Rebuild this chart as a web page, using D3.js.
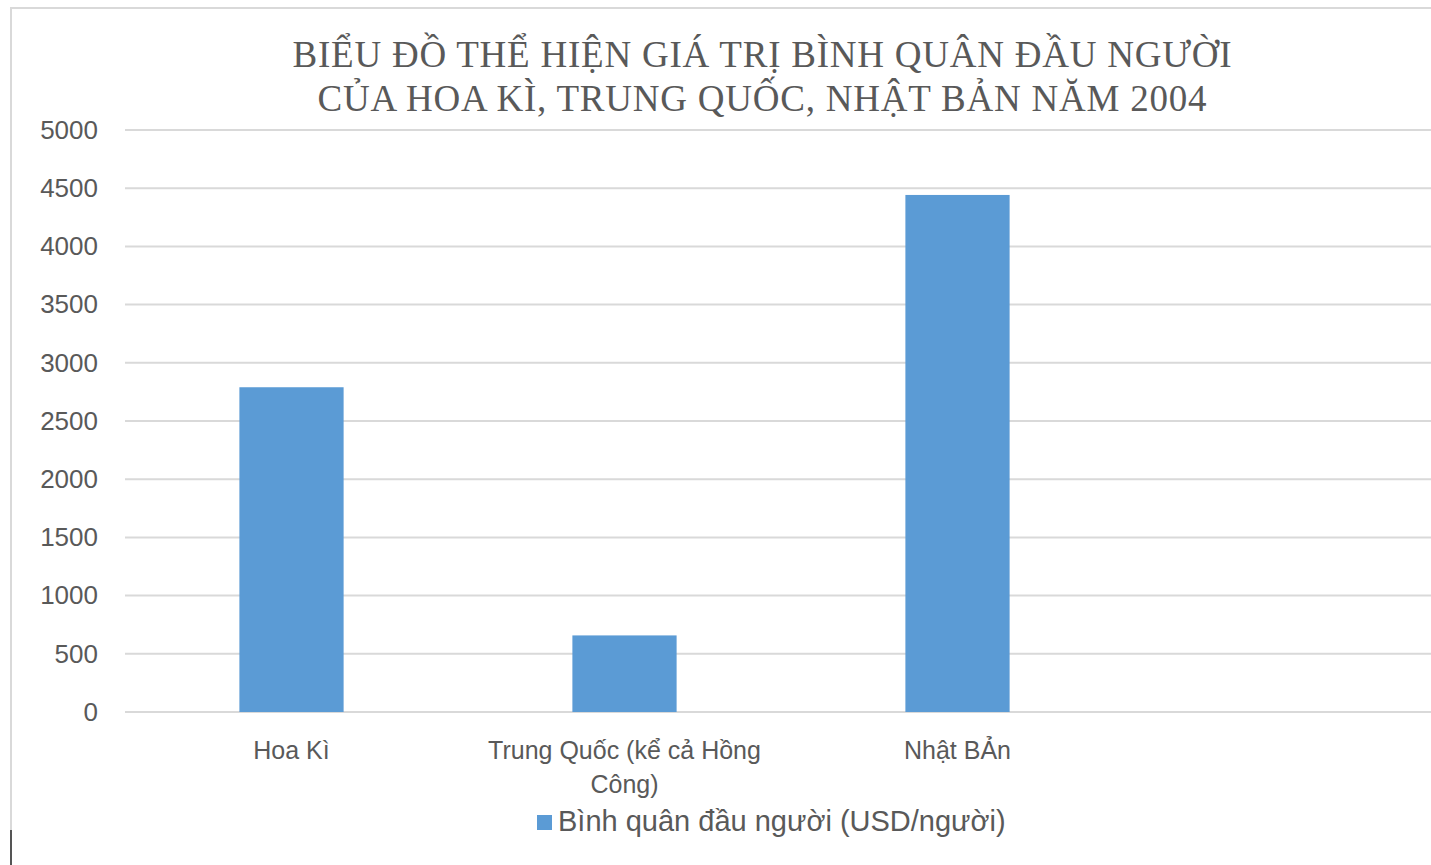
<!DOCTYPE html>
<html lang="vi">
<head>
  <meta charset="UTF-8" />
  <title>Bình quân đầu người 2004</title>
  <style>
    body {
      margin: 0;
      background-color: #fff;
      overflow: hidden;
    }

    svg {
      display: block;
    }

    .title {
      font-family: "Liberation Serif", "Times New Roman", serif;
      font-size: 37px;
      fill: #595959;
    }

    .axis text {
      font-family: "Liberation Sans", Arial, sans-serif;
      fill: #595959;
    }

    .grid line {
      stroke: #d9d9d9;
      stroke-width: 2px;
    }
  </style>
</head>
<body>
  <svg></svg>

  <script src="https://cdnjs.cloudflare.com/ajax/libs/d3/7.8.5/d3.min.js"></script>
  <script>
    // Data
    const titleLines = [
      "BIỂU ĐỒ THỂ HIỆN GIÁ TRỊ BÌNH QUÂN ĐẦU NGƯỜI",
      "CỦA HOA KÌ, TRUNG QUỐC, NHẬT BẢN NĂM 2004"
    ];
    const titleWidths = [939, 889];
    const categories = ["Hoa Kì", "Trung Quốc (kể cả Hồng Công)", "Nhật BẢn", ""];
    const categoryLines = [["Hoa Kì"], ["Trung Quốc (kể cả Hồng", "Công)"], ["Nhật BẢn"], []];
    const values = [2790, 658, 4442, null];
    const yTicks = [0, 500, 1000, 1500, 2000, 2500, 3000, 3500, 4000, 4500, 5000];
    const seriesName = "Bình quân đầu người (USD/người)";

    const width = 1431;
    const height = 865;
    const margin = { top: 130, right: -26, bottom: 153, left: 125 };

    const svg = d3.select("svg")
      .attr("width", width)
      .attr("height", height);

    // chart frame
    svg.append("rect")
      .attr("x", 11)
      .attr("y", 8)
      .attr("width", 1500)
      .attr("height", 1000)
      .attr("fill", "none")
      .attr("stroke", "#d9d9d9")
      .attr("stroke-width", 2);

    svg.append("line")
      .attr("x1", 11).attr("x2", 11)
      .attr("y1", 830).attr("y2", height)
      .attr("stroke", "#555")
      .attr("stroke-width", 2);

    const x = d3.scaleBand()
      .domain(categories)
      .range([margin.left, width - margin.right])
      .paddingInner(0.687)
      .paddingOuter(0.3435);

    const y = d3.scaleLinear()
      .domain([0, 5000])
      .range([height - margin.bottom, margin.top]);

    // gridlines
    svg.append("g")
      .attr("class", "grid")
      .selectAll("line")
      .data(yTicks)
      .join("line")
      .attr("x1", margin.left)
      .attr("x2", width)
      .attr("y1", d => y(d))
      .attr("y2", d => y(d));

    // y tick labels
    const yAxis = svg.append("g")
      .attr("class", "axis")
      .attr("transform", `translate(${margin.left},0)`)
      .call(d3.axisLeft(y).tickValues(yTicks).tickFormat(d3.format("d")).tickSize(0).tickPadding(27));
    yAxis.select(".domain").remove();
    yAxis.selectAll("text").style("font-size", "26px");

    // bars
    svg.append("g")
      .selectAll("rect")
      .data(categories.map((c, i) => ({ c, v: values[i] })).filter(d => d.v != null))
      .join("rect")
      .attr("x", d => x(d.c))
      .attr("width", x.bandwidth())
      .attr("y", d => y(d.v))
      .attr("height", d => y(0) - y(d.v))
      .attr("fill", "#5b9bd5");

    // category labels
    const xAxis = svg.append("g")
      .attr("class", "axis")
      .attr("transform", `translate(0,${y(0)})`)
      .call(d3.axisBottom(x).tickSize(0).tickFormat(""));
    xAxis.select(".domain").remove();
    xAxis.selectAll(".tick text").remove();
    xAxis.selectAll(".tick")
      .append("text")
      .attr("text-anchor", "middle")
      .style("font-size", "25px")
      .selectAll("tspan")
      .data((d, i) => categoryLines[i])
      .join("tspan")
      .attr("x", 0)
      .attr("y", (d, i) => 47 + i * 34)
      .text(d => d);

    // title
    svg.append("text")
      .attr("class", "title")
      .attr("text-anchor", "middle")
      .selectAll("tspan")
      .data(titleLines)
      .join("tspan")
      .attr("x", 762)
      .attr("y", (d, i) => 67 + i * 44)
      .attr("textLength", (d, i) => titleWidths[i])
      .attr("lengthAdjust", "spacing")
      .text(d => d);

    // legend
    const legend = svg.append("g").attr("transform", "translate(537,815)");
    legend.append("rect")
      .attr("width", 15)
      .attr("height", 15)
      .attr("fill", "#5b9bd5");
    legend.append("text")
      .attr("x", 21)
      .attr("y", 16)
      .style("font-family", "'Liberation Sans', Arial, sans-serif")
      .style("font-size", "29px")
      .style("fill", "#595959")
      .text(seriesName);
  </script>
</body>
</html>
